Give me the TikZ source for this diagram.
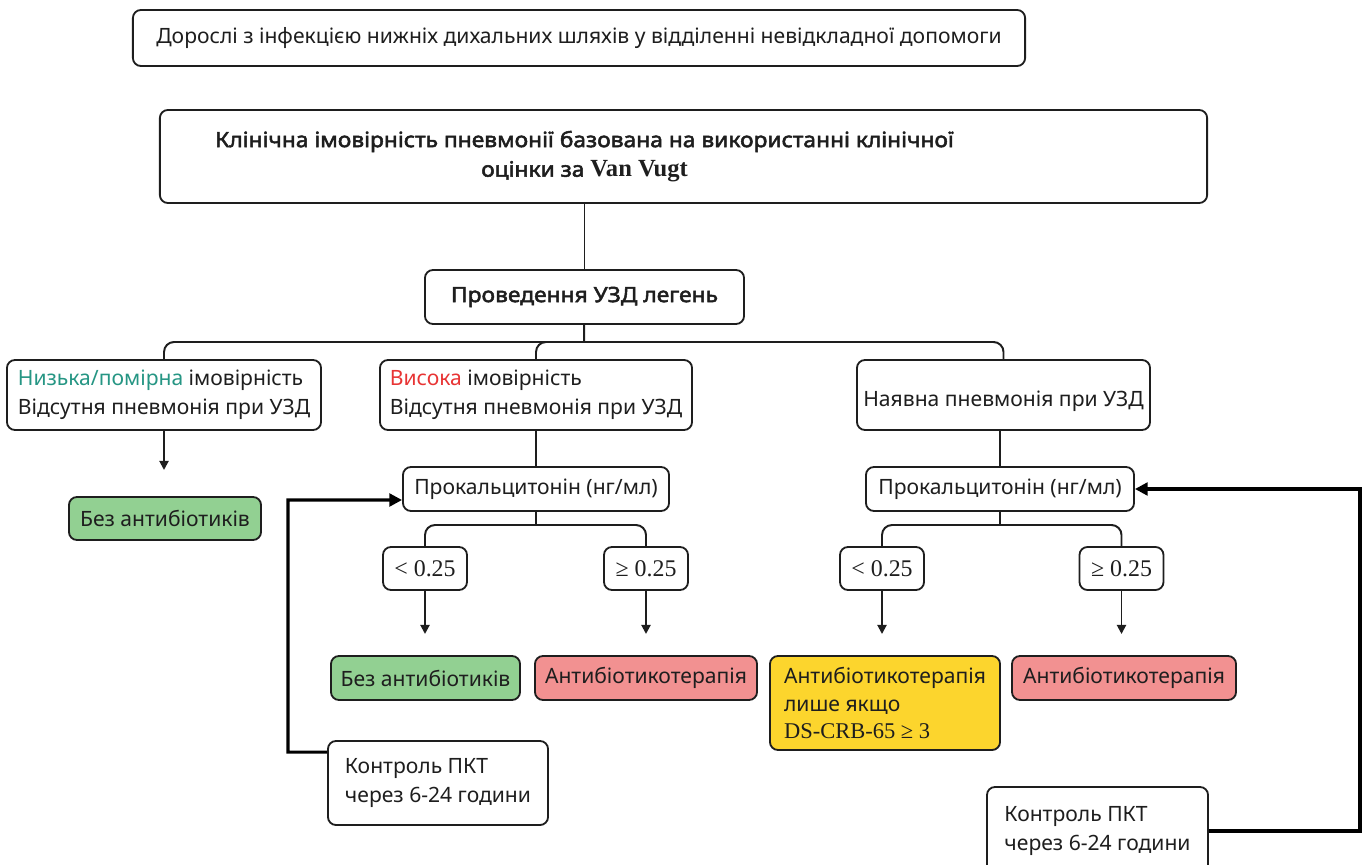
\documentclass[tikz,border=0pt]{standalone}
\usepackage{fontspec}
\setmainfont{Noto Sans}[AutoFakeBold=2.2]
\newfontfamily\hdfont{Noto Sans}[FakeBold=2.4,FakeStretch=1.08]
\newfontfamily\serif{Liberation Serif}
\usetikzlibrary{arrows.meta}
\definecolor{lgreen}{RGB}{146,208,146}
\definecolor{lred}{RGB}{242,145,145}
\definecolor{lyell}{RGB}{252,213,45}
\definecolor{tealtx}{RGB}{38,150,132}
\definecolor{redtx}{RGB}{232,52,52}
\definecolor{inkk}{RGB}{30,30,30}
\begin{document}
\begin{tikzpicture}[x=0.025cm,y=-0.025cm,
box/.style ={draw=inkk, line width=1.3pt, rounded corners=0.2cm, fill=white, text=inkk, font=\fontsize{15}{20.5}\selectfont, inner sep=0pt},
lbox/.style ={box, align=left},
gbox/.style ={box, fill=lgreen},
rbox/.style ={box, fill=lred},
valbox/.style ={box, minimum width=2.1cm, minimum height=1.075cm, font=\fontsize{17}{20}\selectfont\serif},
conn/.style ={draw=inkk, line width=1.4pt, rounded corners=0.25cm},
arr/.style ={draw=inkk, line width=1.4pt, -{Triangle[length=6.5pt,width=6.5pt]}},
back/.style ={draw=black, line width=2.2pt, -{Triangle[length=9pt,width=9pt]}}]
\useasboundingbox (0,0) rectangle (1368,865);
\clip (0,0) rectangle (1368,865);

%top boxes
\node[box, minimum width=22.3cm, minimum height=1.4cm] at (579,38) (1){Дорослі з інфекцією нижніх дихальних шляхів у відділенні невідкладної допомоги};
\node[box, minimum width=26.175cm, minimum height=2.325cm] at (683.5,156.5) (2){};
\node[box, minimum width=7.975cm, minimum height=1.35cm, font=\fontsize{15}{20}\hdfont] at (584.5,297) (3){Проведення УЗД легень};
\node[align=center, text=inkk, font=\fontsize{15}{21}\hdfont] at (3 |- 2) (2t){Клінічна імовірність пневмонії базована на використанні клінічної\\оцінки за {\fontsize{17.5}{21}\selectfont\serif\bfseries Van Vugt}};
\draw[conn] (3) -- (3 |- 2.south);

%ultrasound branches
\node[lbox, minimum width=7.85cm, minimum height=1.75cm] at (164,395) (4){{\color{tealtx}Низька/помірна} імовірність\\Відсутня пневмонія при УЗД};
\node[lbox, minimum width=7.8cm, minimum height=1.75cm] at (536,395) (5){{\color{redtx}Висока} імовірність\\Відсутня пневмонія при УЗД};
\node[lbox, minimum width=7.325cm, minimum height=1.75cm] at (1003.5,395) (6){\mbox{}\\Наявна пневмонія при УЗД};
\coordinate (b1) at (584,342);
\draw[conn] (3) -- (b1);
\draw[conn] (4.north) |- (b1) -| (6.north);
\draw[conn] (b1) -| (5.north);

%low probability
\node[gbox, minimum width=4.8cm, minimum height=1.075cm] at (165,518.5) (7){Без антибіотиків};
\coordinate (e0) at (4.south |- 0,470);
\draw[arr] (4.south) -- (e0);

%high probability, no pneumonia
\node[box, minimum width=6.65cm, minimum height=1.1cm] at (536,489) (8){Прокальцитонін (нг/мл)};
\node[valbox] at (425,568.5) (9){< 0.25};
\node[valbox] at (646,568.5) (10){≥ 0.25};
\node[gbox, minimum width=4.725cm, minimum height=1.1cm] at (425.5,678) (11){Без антибіотиків};
\node[rbox, minimum width=5.55cm, minimum height=1.1cm] at (646,678) (12){Антибіотикотерапія};
\node[lbox, minimum width=5.5cm, minimum height=2.1cm] at (438,783) (13){Контроль ПКТ\\через 6-24 години};
\draw[conn] (5) -- (8);
\coordinate (b2) at (536,525);
\draw[conn] (8) -- (b2);
\draw[conn] (9.north) |- (b2) -| (10.north);
\coordinate (e1) at (9.south |- 0,634);
\coordinate (e2) at (10.south |- 0,634);
\draw[arr] (9) -- (e1);
\draw[arr] (10) -- (e2);
\coordinate (L1) at (288,500);
\draw[back] ([yshift=-0.3cm]13.north west) -| (L1) -- ([yshift=-0.275cm]8.west);

%pneumonia present
\node[box, minimum width=6.7cm, minimum height=1.1cm] at (1000,489) (14){Прокальцитонін (нг/мл)};
\node[valbox] at (882,568.5) (15){< 0.25};
\node[valbox] at (1121.5,568.5) (16){≥ 0.25};
\node[lbox, fill=lyell, minimum width=5.75cm, minimum height=2.35cm, font=\fontsize{15}{19.5}\selectfont] at (885,703) (17){Антибіотикотерапія\\лише якщо\\{\fontsize{16}{19.5}\selectfont\serif DS-CRB-65 ≥ 3}};
\node[rbox, minimum width=5.6cm, minimum height=1.1cm] at (1124,678) (18){Антибіотикотерапія};
\node[lbox, minimum width=5.525cm, minimum height=2.2cm] at (1097.5,831) (19){Контроль ПКТ\\через 6-24 години};
\draw[conn] (6.south -| 14) -- (14);
\coordinate (b3) at (1000,525);
\draw[conn] (14) -- (b3);
\draw[conn] (15.north) |- (b3) -| (16.north);
\coordinate (e3) at (15.south |- 0,634);
\coordinate (e4) at (16.south |- 0,634);
\draw[arr] (15) -- (e3);
\draw[arr] (16) -- (e4);
\coordinate (R1) at (1360,489);
\draw[back] (19.east) -| (R1) -- (14.east);
\end{tikzpicture}
\end{document}
